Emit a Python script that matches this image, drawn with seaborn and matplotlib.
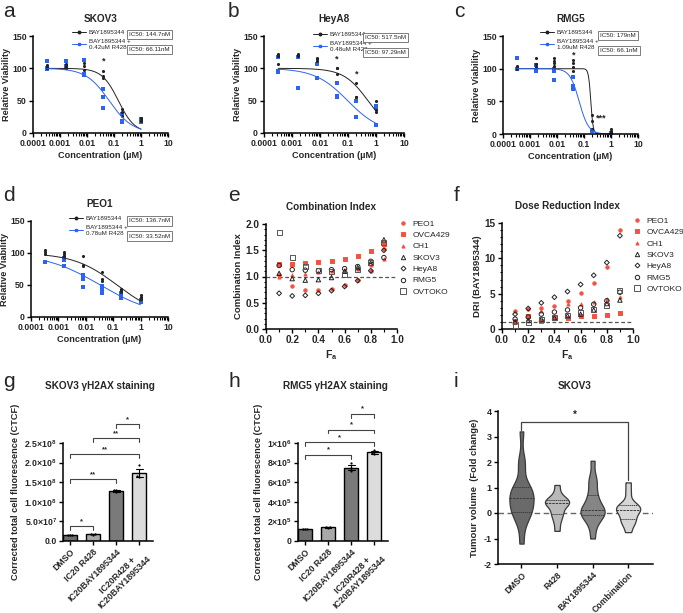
import numpy as np
import pandas as pd
import matplotlib
matplotlib.use("Agg")
import matplotlib.pyplot as plt
import seaborn as sns
from matplotlib.lines import Line2D
from matplotlib.ticker import FixedLocator, LogLocator, NullFormatter, MultipleLocator

# ---------------- data ----------------
conc_uM = [0.00032, 0.0016, 0.008, 0.04, 0.2, 1.0]
conc_ticks = [0.0001, 0.001, 0.01, 0.1, 1, 10]
conc_tick_labels = ["0.0001", "0.001", "0.01", "0.1", "1", "10"]

skov3_mono = [[105, 102, 100], [106, 103, 100], [109, 104, 97], [96, 88, 85], [37, 33, 27], [23, 20, 18]]
skov3_combo = [[112, 100, 99], [111, 103, 100], [113, 91, 89], [68, 56, 38], [30, 18, 17], [22, 19, 17]]
heya8_mono = [[122, 119, 107], [122, 120, 119], [116, 114, 112], [101, 92, 100], [77, 56, 55], [50, 35, 33]]
heya8_combo = [[117, 96, 95], [118, 117, 70], [106, 85, 85], [77, 57, 56], [50, 49, 25], [41, 39, 13]]
rmg5_mono = [[104, 101, 99], [116, 107, 103], [116, 112, 108, 104], [113, 108, 102, 97], [29, 20, 7], [8, 5, 3]]
rmg5_combo = [[116, 100], [105, 97], [100, 97, 83], [88, 73, 69], [6, 4], [1, 0]]
peo1_mono = [[104, 101, 98], [102, 98, 96], [96, 81, 79], [71, 59, 57], [44, 42, 39], [34, 31, 28]]
peo1_combo = [[86], [92, 89, 79], [66, 59, 47], [48, 44, 38], [37, 31, 30], [27, 24]]

# fitted curve parameters (top, bottom, IC50 uM, hill slope)
skov3_fit = [(100, 0, 0.1447, 1.43), (100, 0, 0.0661, 1.01)]
heya8_fit = [(100, 0, 0.5175, 1.0), (100, 0, 0.0973, 0.745)]
rmg5_fit = [(100, 0, 0.179, 10.0), (100, 0, 0.0661, 2.5)]
peo1_fit = [(100, 0, 0.1367, 0.553), (100, 0, 0.0335, 0.427)]

ic50_labels = {
    "SKOV3": ["IC50: 144.7nM", "IC50: 66.11nM"],
    "HeyA8": ["IC50: 517.5nM", "IC50: 97.29nM"],
    "RMG5": ["IC50: 179nM", "IC50: 66.1nM"],
    "PEO1": ["IC50: 136.7nM", "IC50: 33.52nM"],
}
r428_doses = {"SKOV3": "0.42uM R428", "HeyA8": "0.48uM R428", "RMG5": "1.09uM R428", "PEO1": "0.78uM R428"}
stars_a = [(0.04, 111, "*")]
stars_b = [(0.04, 114, "*"), (0.2, 91, "*")]
stars_c = [(0.04, 121, "*"), (0.45, 25, "***")]
stars_d = []

fa = [0.1, 0.2, 0.3, 0.4, 0.5, 0.6, 0.7, 0.8, 0.9]
cell_lines = ["PEO1", "OVCA429", "CH1", "SKOV3", "HeyA8", "RMG5", "OVTOKO"]
ci_peo1 = [1.02, 0.81, 0.75, 0.74, 0.77, 0.83, 0.93, 1.11, 1.52]
ci_ovca429 = [1.23, 1.23, 1.25, 1.27, 1.30, 1.34, 1.40, 1.48, 1.62]
ci_ch1 = [0.99, 1.02, 1.05, 1.08, 1.10, 1.13, 1.15, 1.22, 1.33]
ci_skov3 = [1.06, 0.96, 0.93, 0.94, 0.98, 1.10, 1.17, 1.25, 1.70]
ci_heya8 = [0.68, 0.63, 0.64, 0.68, 0.73, 0.81, 0.92, 1.11, 1.50]
ci_rmg5 = [1.21, 1.13, 1.12, 1.11, 1.13, 1.15, 1.19, 1.29, 1.36]
ci_ovtoko = [1.83, 1.37, 1.19, 1.11, 1.09, 1.03, 1.13, 1.27, 1.65]

dri_peo1 = [2.6, 2.9, 3.0, 3.2, 4.0, 5.1, 6.5, 8.8, 14.0]
dri_ovca429 = [1.2, 1.9, 1.2, 1.5, 1.6, 1.8, 1.9, 2.0, 2.3]
dri_ch1 = [1.0, 1.4, 2.5, 1.9, 3.5, 3.5, 3.8, 4.2, 4.5]
dri_skov3 = [1.0, 1.2, 1.4, 1.6, 1.9, 2.1, 2.7, 3.6, 4.1]
dri_heya8 = [2.1, 2.9, 3.7, 4.5, 5.3, 6.3, 7.6, 9.4, 13.2]
dri_rmg5 = [1.4, 1.7, 2.1, 2.4, 2.7, 3.0, 3.5, 4.0, 5.2]
dri_ovtoko = [0.5, 0.9, 1.3, 1.6, 1.9, 2.3, 2.8, 3.3, 5.4]

ctcf_groups = ["DMSO", "IC20 R428", "IC20BAY1895344", "IC20R428 +\nIC20BAY1895344"]
skov3_ctcf = [[1.45e7, 1.5e7, 1.55e7], [1.65e7, 1.7e7, 1.75e7], [1.24e8, 1.3e8, 1.31e8], [1.95e8, 1.65e8, 1.62e8]]
rmg5_ctcf = [[1.2e5, 1.25e5, 1.27e5], [1.35e5, 1.4e5, 1.45e5], [7.1e5, 7.4e5, 7.95e5], [8.85e5, 9.0e5, 9.3e5]]
skov3_brackets = [(0, 1, 3.75e7, "*"), (0, 2, 1.57e8, "**"), (0, 3, 2.21e8, "**"), (1, 3, 2.62e8, "**"), (2, 3, 2.98e8, "*")]
rmg5_brackets = [(0, 2, 8.8e5, "*"), (0, 3, 1.01e6, "*"), (1, 3, 1.137e6, "*"), (2, 3, 1.30e6, "*")]
skov3_ctcf_ticks = [0, 5e7, 1e8, 1.5e8, 2e8, 2.5e8]
skov3_ctcf_ticklabels = ["0.0", r"5.0×10$^{\mathbf{7}}$", r"1.0×10$^{\mathbf{8}}$", r"1.5×10$^{\mathbf{8}}$",
                         r"2.0×10$^{\mathbf{8}}$", r"2.5×10$^{\mathbf{8}}$"]
rmg5_ctcf_ticks = [0, 2e5, 4e5, 6e5, 8e5, 1e6]
rmg5_ctcf_ticklabels = ["0", r"2×10$^{\mathbf{5}}$", r"4×10$^{\mathbf{5}}$", r"6×10$^{\mathbf{5}}$",
                        r"8×10$^{\mathbf{5}}$", r"1×10$^{\mathbf{6}}$"]

tumour_groups = ["DMSO", "R428", "BAY1895344", "Combination"]
tum_dmso = [-1.2, -0.5, -0.1, 0.0, 0.05, 0.2, 0.4, 0.55, 0.6, 0.75, 0.9, 1.0, 1.05, 1.8, 2.1, 3.2]
tum_r428 = [-0.7, -0.35, -0.1, 0.0, 0.2, 0.35, 0.4, 0.45, 0.5, 0.5, 0.75, 1.1]
tum_bay = [-1.0, -0.5, -0.2, -0.1, 0.0, 0.05, 0.1, 0.15, 0.3, 0.6, 0.75, 1.2, 1.35, 2.05]
tum_combo = [-0.75, -0.4, -0.35, -0.2, 0.0, 0.1, 0.15, 0.2, 0.3, 0.35, 0.8, 1.2]
tumour_bracket = (0, 3, 3.57, 3.25, 1.3, "*")

# ---------------- style ----------------
sns.set_theme(style="ticks")
plt.rcParams['font.family'] = ['Liberation Sans', 'DejaVu Sans']
plt.rcParams['font.weight'] = 'bold'
plt.rcParams['axes.labelweight'] = 'bold'
plt.rcParams['mathtext.fontset'] = 'custom'
plt.rcParams['mathtext.rm'] = 'Liberation Sans:bold'
plt.rcParams['mathtext.bf'] = 'Liberation Sans:bold'
plt.rcParams['mathtext.it'] = 'Liberation Sans:bold'
plt.rcParams['axes.unicode_minus'] = False

NARROW = ['Liberation Sans Narrow', 'Liberation Sans', 'DejaVu Sans']
BLACK = "#222222"
BLUE = "#2d62f2"
RED = "#f4523f"

W, H = 683, 613
fig = plt.figure(figsize=(W / 100, H / 100), dpi=100)


def fx(x):
    return x / W


def fy(y):
    return 1 - y / H


def px_axes(x0, y0, x1, y1):
    return fig.add_axes([x0 / W, 1 - y1 / H, (x1 - x0) / W, (y1 - y0) / H])


def style_axes(ax, tick_fs):
    for s in ["top", "right"]:
        ax.spines[s].set_visible(False)
    for s in ["left", "bottom"]:
        ax.spines[s].set_linewidth(1.1)
        ax.spines[s].set_color("black")
    ax.tick_params(axis="both", which="major", length=3, width=1, labelsize=tick_fs, pad=1.5, color="black")
    ax.tick_params(axis="both", which="minor", length=1.8, width=0.8, color="black")


def dose_panel(box, title, mono, combo, fits, stars, legend_xy, ic50_xy, dose_key):
    ax = px_axes(*box)
    rows = []
    for c, vals in zip(conc_uM, mono):
        rows += [("mono", c, v) for v in vals]
    for c, vals in zip(conc_uM, combo):
        rows += [("combo", c, v) for v in vals]
    df = pd.DataFrame(rows, columns=["treat", "conc", "via"])
    xs = np.logspace(np.log10(conc_uM[0]), np.log10(conc_uM[-1]), 300)
    for fit, col in zip(fits, [BLACK, BLUE]):
        top, bottom, ic50, hill = fit
        ys = bottom + (top - bottom) / (1 + (xs / ic50) ** hill)
        sns.lineplot(x=xs, y=ys, color=col, lw=0.7, ax=ax, sort=False, estimator=None)
    sns.scatterplot(data=df[df.treat == "combo"], x="conc", y="via", color=BLUE, marker="s", s=5,
                    linewidth=0, ax=ax)
    sns.scatterplot(data=df[df.treat == "mono"], x="conc", y="via", color=BLACK, marker="o", s=5,
                    linewidth=0, ax=ax)
    ax.set_xscale("log")
    ax.set_xlim(1e-4, 10)
    ax.set_ylim(0, 150)
    ax.xaxis.set_major_locator(FixedLocator(conc_ticks))
    ax.set_xticklabels(conc_tick_labels)
    ax.xaxis.set_minor_locator(LogLocator(base=10, subs=np.arange(2, 10)))
    ax.xaxis.set_minor_formatter(NullFormatter())
    ax.set_yticks([0, 50, 100, 150])
    style_axes(ax, 6.3)
    ax.set_xlabel("Concentration (µM)", fontsize=6.6, labelpad=2)
    ax.set_ylabel("Relative Viability", fontsize=6.6, labelpad=0.5)
    ax.set_title(title, fontsize=7.2, fontweight="bold", pad=10)
    for c, y, t in stars:
        ax.text(c, y, t, ha="center", va="center", fontsize=6.5, fontweight="bold", color=BLACK)
    handles = [Line2D([], [], color=BLACK, marker="o", ms=1.8, lw=0.7),
               Line2D([], [], color=BLUE, marker="s", ms=1.8, lw=0.7)]
    labels = ["BAY1895344", "BAY1895344 +\n" + r428_doses[dose_key]]
    ax.legend(handles, labels, loc="upper left", bbox_to_anchor=(fx(legend_xy[0]), fy(legend_xy[1])),
              bbox_transform=fig.transFigure, frameon=False,
              prop={"size": 4.5, "weight": "normal", "family": NARROW},
              handlelength=2.2, handletextpad=0.5, labelspacing=0.55, borderpad=0, borderaxespad=0)
    for k, lab in enumerate(ic50_labels[dose_key]):
        fig.text(fx(ic50_xy[0]), fy(ic50_xy[1] + 15 * k), lab, fontsize=4.5, fontweight="normal",
                 family=NARROW, ha="left", va="center",
                 bbox=dict(boxstyle="square,pad=0.35", fc="white", ec="#666666", lw=0.6))
    return ax


dose_panel((33, 36, 168, 133), "SKOV3", skov3_mono, skov3_combo, skov3_fit, stars_a, (72, 30), (129, 34.5), "SKOV3")
dose_panel((264, 36, 404, 133), "HeyA8", heya8_mono, heya8_combo, heya8_fit, stars_b, (313, 32), (365, 37.5), "HeyA8")
dose_panel((503, 36, 638, 134), "RMG5", rmg5_mono, rmg5_combo, rmg5_fit, stars_c, (540, 30), (600, 35.5), "RMG5")
dose_panel((31, 221, 168, 317), "PEO1", peo1_mono, peo1_combo, peo1_fit, stars_d, (69, 216), (129, 221), "PEO1")

# ---------------- CI / DRI panels ----------------
marker_styles = {
    "PEO1": dict(marker="o", fc=RED, ec=RED, s=6),
    "OVCA429": dict(marker="s", fc=RED, ec=RED, s=7),
    "CH1": dict(marker="^", fc=RED, ec=RED, s=5),
    "SKOV3": dict(marker="^", fc="none", ec="#222222", s=10),
    "HeyA8": dict(marker="D", fc="none", ec="#222222", s=6),
    "RMG5": dict(marker="o", fc="none", ec="#222222", s=10),
    "OVTOKO": dict(marker="s", fc="none", ec="#555555", s=13),
}


def index_panel(box, title, series, ylabel, ylim, yticks, ylabels, minor_y, legend_xy):
    ax = px_axes(*box)
    ax.axhline(1.0, color="#555555", lw=0.9, ls=(0, (3, 2)), zorder=1)
    for name, vals in zip(cell_lines, series):
        st = marker_styles[name]
        sns.scatterplot(x=fa, y=vals, marker=st["marker"], s=st["s"], facecolors=st["fc"],
                        edgecolor=st["ec"], linewidth=0.7, ax=ax, zorder=3)
    ax.set_xlim(0, 1.0)
    ax.set_ylim(*ylim)
    ax.set_xticks([0, 0.2, 0.4, 0.6, 0.8, 1.0])
    ax.set_xticklabels(["0.0", "0.2", "0.4", "0.6", "0.8", "1.0"])
    ax.xaxis.set_minor_locator(MultipleLocator(0.1))
    ax.set_yticks(yticks)
    ax.set_yticklabels(ylabels)
    ax.yaxis.set_minor_locator(MultipleLocator(minor_y))
    style_axes(ax, 7.2)
    ax.set_xlabel(r"F$_{\mathbf{a}}$", fontsize=7.5, labelpad=2)
    ax.set_ylabel(ylabel, fontsize=6.8, labelpad=2)
    ax.set_title(title, fontsize=7.2, fontweight="bold", pad=10)
    handles = []
    for name in cell_lines:
        st = marker_styles[name]
        handles.append(Line2D([], [], ls="none", marker=st["marker"], ms=np.sqrt(st["s"]),
                              markerfacecolor=st["fc"], markeredgecolor=st["ec"], markeredgewidth=0.7))
    ax.legend(handles, cell_lines, loc="upper left", bbox_to_anchor=(fx(legend_xy[0]), fy(legend_xy[1])),
              bbox_transform=fig.transFigure, frameon=False, prop={"size": 6.0, "weight": "normal"},
              handlelength=1.0, handletextpad=0.6, labelspacing=0.42, borderpad=0, borderaxespad=0)
    return ax


index_panel((266, 224, 397, 329), "Combination Index",
            [ci_peo1, ci_ovca429, ci_ch1, ci_skov3, ci_heya8, ci_rmg5, ci_ovtoko],
            "Combination Index", (0, 2.0), [0, 0.5, 1.0, 1.5, 2.0], ["0.0", "0.5", "1.0", "1.5", "2.0"],
            0.1, (399, 220))
index_panel((502, 223, 633, 329), "Dose Reduction Index",
            [dri_peo1, dri_ovca429, dri_ch1, dri_skov3, dri_heya8, dri_rmg5, dri_ovtoko],
            "DRI (BAY1895344)", (0, 15), [0, 5, 10, 15], ["0", "5", "10", "15"], 1.0, (633, 217))

# ---------------- CTCF bar panels ----------------
bar_colors = ["#6f6f6f", "#a9a9a9", "#7a7a7a", "#dcdcdc"]


def bar_panel(box, title, title_x, reps, brackets, ticks, ticklabels, drop):
    ax = px_axes(*box)
    rows = [(g, v) for g, vals in zip(ctcf_groups, reps) for v in vals]
    df = pd.DataFrame(rows, columns=["group", "ctcf"])
    sns.barplot(data=df, x="group", y="ctcf", hue="group", palette=bar_colors, errorbar="se", capsize=0.3,
                err_kws={"linewidth": 0.8, "color": "black"}, width=0.6, edgecolor="black", linewidth=1.0,
                legend=False, ax=ax)
    sns.swarmplot(data=df, x="group", y="ctcf", color="black", size=1.6, ax=ax)
    ax.set_xlim(-0.3, 3.6)
    ax.set_ylim(ticks[0], ticks[-1])
    ax.set_yticks(ticks)
    ax.set_yticklabels(ticklabels)
    style_axes(ax, 6.3)
    ax.set_xticks(range(len(ctcf_groups)))
    ax.set_xticklabels(ctcf_groups, rotation=45, ha="right", rotation_mode="anchor",
                       multialignment="center", fontsize=6.3)
    ax.set_xlabel("")
    ax.set_ylabel("Corrected total cell fluorescence (CTCF)", fontsize=6.6, labelpad=3)
    fig.text(fx(title_x), fy(386), title, fontsize=7.2, fontweight="bold", ha="center", va="center")
    for i, j, y, t in brackets:
        ax.plot([i, i, j, j], [y - drop, y, y, y - drop], color="#444444", lw=0.8, clip_on=False)
        ax.text((i + j) / 2, y + drop * 0.3, t, ha="center", va="bottom", fontsize=5.5, clip_on=False)
    return ax


bar_panel((63, 443, 153, 541), "SKOV3 γH2AX staining", 100, skov3_ctcf, skov3_brackets,
          skov3_ctcf_ticks, skov3_ctcf_ticklabels, 1.0e7)
bar_panel((298, 443, 388, 541), "RMG5 γH2AX staining", 335, rmg5_ctcf, rmg5_brackets,
          rmg5_ctcf_ticks, rmg5_ctcf_ticklabels, 4.0e4)

# ---------------- violin panel ----------------
axi = px_axes(498, 411, 653, 564)
rows = [(g, v) for g, vals in zip(tumour_groups, [tum_dmso, tum_r428, tum_bay, tum_combo]) for v in vals]
tdf = pd.DataFrame(rows, columns=["group", "fold"])
axi.axhline(0, color="#666666", lw=1.0, ls=(0, (4, 2.5)), zorder=0)
sns.violinplot(data=tdf, x="group", y="fold", hue="group", palette=["#6a6a6a", "#b9b9b9", "#858585", "#d6d6d6"],
               inner="quart", cut=0, density_norm="width", width=0.68, linewidth=0.9, linecolor="#3a3a3a",
               bw_adjust=0.6, legend=False, ax=axi, inner_kws=dict(color="#3a3a3a", linewidth=0.7))
axi.set_xlim(-0.66, 3.7)
axi.set_ylim(-2, 4)
axi.set_yticks([-2, -1, 0, 1, 2, 3, 4])
style_axes(axi, 6.5)
axi.set_xticks(range(4))
axi.set_xticklabels(tumour_groups, rotation=45, ha="right", rotation_mode="anchor", fontsize=6.2)
axi.set_xlabel("")
axi.set_ylabel("Tumour volume  (Fold change)", fontsize=6.8, labelpad=3)
fig.text(fx(575), fy(386), "SKOV3", fontsize=7.2, fontweight="bold", ha="center", va="center")
i0, j0, yb, yl, yr, t = tumour_bracket
axi.plot([i0, i0, j0, j0], [yl, yb, yb, yr], color="#444444", lw=0.9, clip_on=False)
axi.text((i0 + j0) / 2, yb + 0.08, t, ha="center", va="bottom", fontsize=7)

# ---------------- panel letters ----------------
for letter, (x, y) in zip("abcdefghi", [(3, 2), (228, 2), (454, 2), (3, 186), (228, 186), (454, 186),
                                       (3, 372), (228, 372), (454, 372)]):
    fig.text(fx(x), fy(y), letter, fontsize=15, fontweight="normal", ha="left", va="top")

fig.savefig("out.png", dpi=100)
